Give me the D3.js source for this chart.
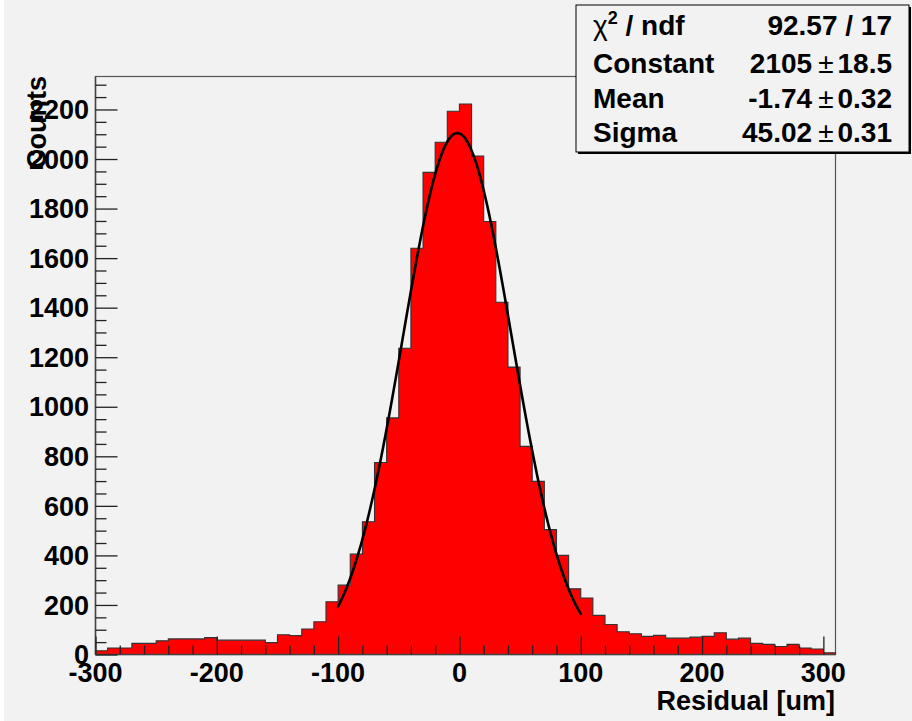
<!DOCTYPE html>
<html>
<head>
<meta charset="utf-8">
<script src="https://cdn.jsdelivr.net/npm/d3@7"></script>
<style>
  html, body { margin: 0; padding: 0; background: #ffffff; }
  svg { display: block; }
  text { font-family: "Liberation Sans", Arial, Helvetica, sans-serif; font-weight: bold; fill: #000; }
</style>
</head>
<body>
<svg id="chart" width="912" height="721"></svg>
<script>
// ---------- data ----------
const binLowEdges = [-300,-290,-280,-270,-260,-250,-240,-230,-220,-210,
                     -200,-190,-180,-170,-160,-150,-140,-130,-120,-110,
                     -100,-90,-80,-70,-60,-50,-40,-30,-20,-10,
                     0,10,20,30,40,50,60,70,80,90,
                     100,110,120,130,140,150,160,170,180,190,
                     200,210,220,230,240,250,260,270,280,290,300];
const binCounts = [15,26,26,45,45,55,63,63,63,68,
                   58,58,58,58,48,80,76,103,132,213,
                   280,405,536,775,955,1236,1640,1946,2068,2193,
                   2222,2012,1748,1422,1160,840,699,504,400,265,
                   228,158,121,92,84,73,77,66,66,70,
                   73,88,62,66,45,41,32,41,26,22,7];
const binWidth = 10;
const xTicks = [-300,-200,-100,0,100,200,300];
const yTicks = [0,200,400,600,800,1000,1200,1400,1600,1800,2000,2200];
const fitLabels = ["Constant","Mean","Sigma"];
const fitValues = [2105, -1.74, 45.02];
const fitErrors = ["18.5","0.32","0.31"];
const fitValueText = ["2105","-1.74","45.02"];
const fitRange = [-100, 100];
const chi2Text = "92.57 / 17";

// ---------- layout ----------
const svg = d3.select("#chart");
const W = 912, H = 721;
const bg = "#f2f2f2";
const frame = {left: 95.5, right: 835.5, top: 76.5, bottom: 654.5};

svg.append("rect").attr("x", 4).attr("y", 0).attr("width", W - 4).attr("height", H).attr("fill", bg);

const xMin = binLowEdges[0], xMax = binLowEdges[binLowEdges.length - 1] + binWidth;
const yMax = 1.05 * d3.max(binCounts);

const x = d3.scaleLinear().domain([xMin, xMax]).range([frame.left, frame.right]);
const y = d3.scaleLinear().domain([0, yMax]).range([frame.bottom, frame.top]);

// frame
svg.append("rect")
  .attr("x", frame.left).attr("y", frame.top)
  .attr("width", frame.right - frame.left).attr("height", frame.bottom - frame.top)
  .attr("fill", bg).attr("stroke", "#555").attr("stroke-width", 1.2);

// histogram as a step area + outline
const bins = binLowEdges.map((lo, i) => ({lo, hi: lo + binWidth, v: binCounts[i]}));
const stepPts = [];
bins.forEach(d => { stepPts.push([d.lo, d.v]); stepPts.push([d.hi, d.v]); });
svg.append("path")
  .attr("d", d3.area().x(p => x(p[0])).y0(y(0)).y1(p => y(p[1]))(stepPts))
  .attr("fill", "#ff0000");
const outlinePts = [[xMin, 0], ...stepPts, [xMax, 0]];
svg.append("path")
  .attr("d", d3.line().x(p => x(p[0])).y(p => y(p[1]))(outlinePts))
  .attr("fill", "none").attr("stroke", "#333").attr("stroke-width", 1.1);

// fit curve (Gaussian with the displayed fit parameters)
const [C, mu, sig] = fitValues;
const fitPts = d3.range(fitRange[0], fitRange[1] + 0.001, 1).map(v => [v, C * Math.exp(-0.5 * ((v - mu) / sig) ** 2)]);
svg.append("path")
  .attr("d", d3.line().x(p => x(p[0])).y(p => y(p[1]))(fitPts))
  .attr("fill", "none").attr("stroke", "#000").attr("stroke-width", 2.6)
  .attr("stroke-linejoin", "round").attr("stroke-linecap", "round");

// axes lines
svg.append("line").attr("x1", frame.left).attr("x2", frame.right).attr("y1", frame.bottom).attr("y2", frame.bottom)
  .attr("stroke", "#444").attr("stroke-width", 1.5);
svg.append("line").attr("x1", frame.left).attr("x2", frame.left).attr("y1", frame.top).attr("y2", frame.bottom)
  .attr("stroke", "#444").attr("stroke-width", 1.5);

// x axis ticks (inward)
const xMinor = d3.range(xMin, xMax + 0.001, 20).filter(v => !xTicks.includes(v));
const xAxisMajor = d3.axisBottom(x).tickValues(xTicks).tickSize(-18).tickFormat("");
const xAxisMinor = d3.axisBottom(x).tickValues(xMinor).tickSize(-9).tickFormat("");
[xAxisMajor, xAxisMinor].forEach(ax => {
  const g = svg.append("g").attr("transform", `translate(0,${frame.bottom})`).call(ax);
  g.select(".domain").remove();
  g.selectAll("line").attr("stroke", "#222").attr("stroke-width", 1.3);
});
svg.append("g").selectAll("text").data(xTicks).join("text")
  .attr("x", d => x(d)).attr("y", 682).attr("text-anchor", "middle")
  .attr("font-size", 27).text(d => d);

// y axis ticks (inward)
const yMinor = d3.range(0, yMax, 50).filter(v => !yTicks.includes(v));
const yAxisMajor = d3.axisLeft(y).tickValues(yTicks).tickSize(-22).tickFormat("");
const yAxisMinor = d3.axisLeft(y).tickValues(yMinor).tickSize(-11).tickFormat("");
[yAxisMajor, yAxisMinor].forEach(ax => {
  const g = svg.append("g").attr("transform", `translate(${frame.left},0)`).call(ax);
  g.select(".domain").remove();
  g.selectAll("line").attr("stroke", "#222").attr("stroke-width", 1.3);
});
svg.append("g").selectAll("text").data(yTicks).join("text")
  .attr("x", 89).attr("y", d => y(d) + 9.7).attr("text-anchor", "end")
  .attr("font-size", 27).text(d => d);

// axis titles
svg.append("text").attr("x", 835).attr("y", 710).attr("text-anchor", "end")
  .attr("font-size", 27).text("Residual [um]");
svg.append("text").attr("transform", "translate(46,76) rotate(-90)").attr("text-anchor", "end")
  .attr("font-size", 27).text("Counts");

// stats box
const box = {x: 576, y: 5, w: 333, h: 147};
svg.append("rect").attr("x", box.x + 2).attr("y", box.y + 2).attr("width", box.w).attr("height", box.h).attr("fill", "#000");
svg.append("rect").attr("x", box.x).attr("y", box.y).attr("width", box.w).attr("height", box.h)
  .attr("fill", bg).attr("stroke", "#000").attr("stroke-width", 1);

const rowBase = [35, 73, 108, 142];
const leftX = 593, rightX = 892;
const fs = 28;
const t1 = svg.append("text").attr("x", leftX).attr("y", rowBase[0]).attr("font-size", fs);
t1.append("tspan").attr("font-weight", "normal").text("χ");
t1.append("tspan").attr("font-size", 18).attr("dy", -11).text("2");
t1.append("tspan").attr("dy", 11).text(" / ndf");
svg.append("text").attr("x", rightX).attr("y", rowBase[0]).attr("text-anchor", "end").attr("font-size", fs).text(chi2Text);

fitLabels.forEach((lab, i) => {
  svg.append("text").attr("x", leftX).attr("y", rowBase[i + 1]).attr("font-size", fs).text(lab);
  const t = svg.append("text").attr("x", rightX).attr("y", rowBase[i + 1]).attr("text-anchor", "end").attr("font-size", fs);
  t.append("tspan").text(fitValueText[i]);
  t.append("tspan").attr("font-weight", "normal").attr("dx", 6).text("±");
  t.append("tspan").attr("dx", 4).text(fitErrors[i]);
});
</script>
</body>
</html>
